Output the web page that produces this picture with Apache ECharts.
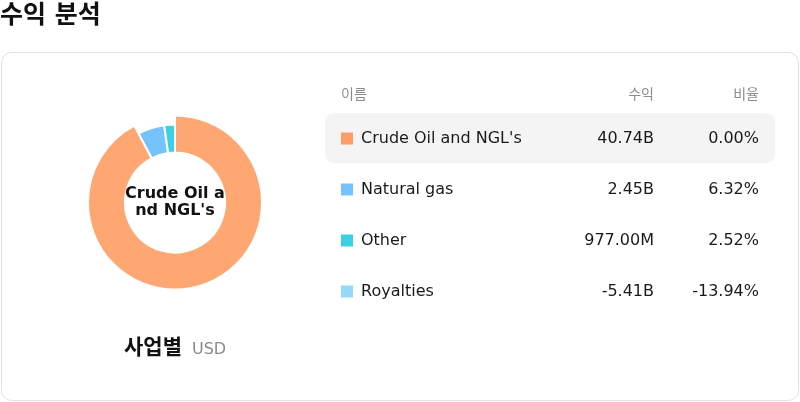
<!DOCTYPE html>
<html>
<head>
<meta charset="utf-8">
<script src="https://cdn.jsdelivr.net/npm/echarts@6/dist/echarts.min.js"></script>
<style>
html,body{margin:0;padding:0;background:#fff;}
#chart{width:800px;height:402px;}
</style>
</head>
<body>
<div id="chart"></div>
<script>
const categories = ["Crude Oil and NGL's", "Natural gas", "Other", "Royalties"];
const revenues = [40.74e9, 2.45e9, 0.977e9, -5.41e9];
const revenueLabels = ["40.74B", "2.45B", "977.00M", "-5.41B"];
const ratioLabels = ["0.00%", "6.32%", "2.52%", "-13.94%"];
const colors = ["#FF9C68", "#74C3FA", "#3DCFE2", "#93D9F8"];
const sliceColors = ["#FFA772", "#74C3FA", "#3DCFE2", "#93D9F8"];
const headers = ["이름", "수익", "비율"];

const FONT = "'DejaVu Sans', 'Noto Sans CJK KR', sans-serif";
const chart = echarts.init(document.getElementById('chart'), null, {renderer: 'canvas'});

const pieData = [];
categories.forEach((c, i) => {
  if (revenues[i] > 0) pieData.push({
    name: c, value: revenues[i],
    itemStyle: {color: sliceColors[i]},
    emphasis: {itemStyle: {color: sliceColors[i]}}
  });
});

const graphics = [
  {type: 'rect', shape: {x: 1.5, y: 52.5, width: 797, height: 348, r: 10},
   style: {fill: '#fff', stroke: '#E2E0EC', lineWidth: 1}, z: -10},
  {type: 'text', x: 0, y: 16, style: {text: '수익 분석', font: 'bold 25px ' + FONT, fill: '#111', verticalAlign: 'middle'}},
  {type: 'text', x: 175, y: 202, style: {text: categories[0], font: 'bold 16px ' + FONT, fill: '#111',
    align: 'center', verticalAlign: 'middle', width: 104, overflow: 'breakAll', lineHeight: 17}, z: 10},
  {type: 'text', x: 124, y: 349, style: {text: '사업별', font: 'bold 21px ' + FONT, fill: '#111', verticalAlign: 'middle'}},
  {type: 'text', x: 192, y: 350, style: {text: 'USD', font: '16px ' + FONT, fill: '#8a8a8a', verticalAlign: 'middle'}},
  {type: 'rect', shape: {x: 325, y: 113, width: 450, height: 50, r: 9}, style: {fill: '#F4F4F4'}, z: -5},
  {type: 'text', x: 341, y: 95, style: {text: headers[0], font: '14px ' + FONT, fill: '#8c8c8c', verticalAlign: 'middle'}},
  {type: 'text', x: 654, y: 95, style: {text: headers[1], font: '14px ' + FONT, fill: '#8c8c8c', align: 'right', verticalAlign: 'middle'}},
  {type: 'text', x: 759, y: 95, style: {text: headers[2], font: '14px ' + FONT, fill: '#8c8c8c', align: 'right', verticalAlign: 'middle'}}
];
categories.forEach((c, i) => {
  const y = 138.5 + i * 51;
  graphics.push(
    {type: 'rect', shape: {x: 341, y: y - 6, width: 12, height: 12}, style: {fill: colors[i]}},
    {type: 'text', x: 361, y: y, style: {text: c, font: '16px ' + FONT, fill: '#1a1a1a', verticalAlign: 'middle'}},
    {type: 'text', x: 654, y: y, style: {text: revenueLabels[i], font: '16px ' + FONT, fill: '#1a1a1a', align: 'right', verticalAlign: 'middle'}},
    {type: 'text', x: 759, y: y, style: {text: ratioLabels[i], font: '16px ' + FONT, fill: '#1a1a1a', align: 'right', verticalAlign: 'middle'}}
  );
});

chart.setOption({
  animation: false,
  textStyle: {fontFamily: FONT},
  graphic: graphics,
  series: [{
    type: 'pie',
    center: [175, 202.5],
    radius: [50, 78],
    startAngle: 90,
    clockwise: true,
    avoidLabelOverlap: false,
    itemStyle: {borderColor: '#fff', borderWidth: 2},
    label: {show: false},
    labelLine: {show: false},
    emphasis: {scale: true, scaleSize: 9, label: {show: false}},
    data: pieData
  }]
});
chart.dispatchAction({type: 'highlight', seriesIndex: 0, dataIndex: 0});
</script>
</body>
</html>
